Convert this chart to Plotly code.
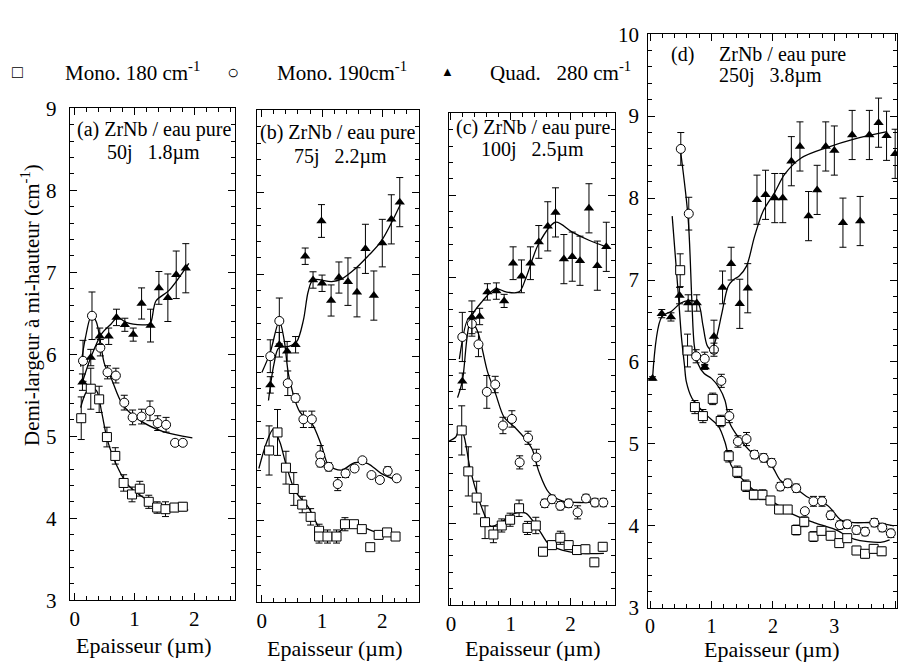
import plotly.graph_objects as go

# ---------------- data ----------------
# Panel (a) 50j 1.8um
a_sq_x = [0.11, 0.27, 0.41, 0.54, 0.68, 0.82, 0.96, 1.09, 1.24, 1.38, 1.52, 1.67, 1.81]
a_sq_y = [5.22, 5.58, 5.45, 4.99, 4.76, 4.43, 4.29, 4.36, 4.20, 4.13, 4.11, 4.13, 4.14]
a_sq_e = [0.26, 0.25, 0.16, 0.12, 0.10, 0.10, 0.09, 0.09, 0.08, 0.07, 0.09, 0.05, 0.05]
a_ci_x = [0.14, 0.29, 0.43, 0.55, 0.69, 0.83, 0.97, 1.12, 1.26, 1.39, 1.53, 1.68, 1.81]
a_ci_y = [5.92, 6.47, 6.08, 5.78, 5.74, 5.41, 5.23, 5.24, 5.31, 5.16, 5.14, 4.92, 4.92]
a_ci_e = [0.25, 0.29, 0.10, 0.08, 0.09, 0.09, 0.09, 0.09, 0.12, 0.09, 0.09, 0.03, 0.03]
a_tr_x = [0.13, 0.27, 0.42, 0.57, 0.70, 0.84, 0.98, 1.12, 1.27, 1.41, 1.56, 1.70, 1.86]
a_tr_y = [5.66, 5.96, 6.22, 6.22, 6.45, 6.36, 6.24, 6.62, 6.35, 6.81, 6.69, 6.97, 7.05]
a_tr_e = [0.10, 0.10, 0.10, 0.10, 0.10, 0.08, 0.08, 0.19, 0.20, 0.20, 0.29, 0.29, 0.30]
a_sqfit_x = [0.10, 0.18, 0.27, 0.37, 0.45, 0.55, 0.70, 0.90, 1.20, 1.50, 1.90]
a_sqfit_y = [5.35, 5.52, 5.60, 5.55, 5.30, 4.95, 4.65, 4.40, 4.23, 4.13, 4.10]
a_cifit_x = [0.10, 0.18, 0.28, 0.36, 0.43, 0.50, 0.61, 0.80, 1.08, 1.47, 1.97]
a_cifit_y = [5.85, 6.20, 6.47, 6.40, 6.15, 5.88, 5.71, 5.39, 5.20, 5.06, 4.98]
a_trfit_x = [0.13, 0.27, 0.45, 0.61, 0.72, 0.86, 1.13, 1.26, 1.36, 1.58, 1.91]
a_trfit_y = [5.66, 5.96, 6.25, 6.37, 6.45, 6.39, 6.36, 6.37, 6.65, 6.78, 7.11]

# Panel (b) 75j 2.2um
b_sq_x = [0.12, 0.26, 0.40, 0.53, 0.67, 0.81, 0.95, 0.95, 1.09, 1.24, 1.38, 1.53, 1.66, 1.80, 1.94, 2.08, 2.22]
b_sq_y = [4.85, 5.07, 4.64, 4.38, 4.19, 4.04, 3.87, 3.80, 3.80, 3.80, 3.95, 3.95, 3.89, 3.67, 3.82, 3.85, 3.80]
b_sq_e = [0.30, 0.28, 0.20, 0.20, 0.10, 0.10, 0.08, 0.08, 0.08, 0.08, 0.08, 0.03, 0.03, 0.00, 0.03, 0.03, 0.03]
b_ci_x = [0.14, 0.29, 0.43, 0.56, 0.69, 0.83, 0.97, 0.97, 1.11, 1.26, 1.39, 1.54, 1.67, 1.82, 1.96, 2.09, 2.24]
b_ci_y = [6.00, 6.43, 5.67, 5.49, 5.23, 5.23, 4.79, 4.70, 4.65, 4.44, 4.57, 4.63, 4.73, 4.55, 4.49, 4.60, 4.51]
b_ci_e = [0.20, 0.28, 0.15, 0.05, 0.10, 0.10, 0.12, 0.05, 0.05, 0.08, 0.05, 0.03, 0.03, 0.03, 0.03, 0.05, 0.03]
b_tr_x = [0.14, 0.29, 0.42, 0.56, 0.72, 0.85, 0.99, 1.00, 1.15, 1.28, 1.43, 1.58, 1.72, 1.86, 2.00, 2.15, 2.29]
b_tr_y = [5.65, 6.14, 6.06, 6.14, 7.22, 6.93, 7.65, 6.89, 6.68, 6.96, 6.91, 6.78, 7.31, 6.74, 7.38, 7.67, 7.88]
b_tr_e = [0.10, 0.15, 0.12, 0.10, 0.10, 0.10, 0.20, 0.10, 0.19, 0.19, 0.29, 0.30, 0.30, 0.30, 0.29, 0.30, 0.30]
b_sqfit_x = [-0.05, 0.08, 0.19, 0.30, 0.39, 0.55, 0.77, 0.91, 0.99, 1.27, 1.40, 1.60, 1.87, 2.26]
b_sqfit_y = [4.63, 4.95, 5.11, 4.95, 4.71, 4.36, 4.16, 3.96, 3.85, 3.85, 3.93, 3.93, 3.86, 3.79]
b_cifit_x = [0.00, 0.14, 0.29, 0.37, 0.45, 0.63, 0.83, 0.99, 1.11, 1.32, 1.54, 1.76, 1.98, 2.26]
b_cifit_y = [5.80, 6.05, 6.43, 6.20, 5.75, 5.32, 5.18, 4.91, 4.67, 4.61, 4.70, 4.69, 4.57, 4.48]
b_trfit_x = [0.11, 0.20, 0.28, 0.45, 0.58, 0.69, 0.77, 0.85, 1.16, 1.32, 1.54, 1.76, 1.98, 2.30]
b_trfit_y = [5.46, 5.90, 6.10, 6.12, 6.18, 6.44, 6.79, 6.93, 6.91, 6.94, 7.06, 7.22, 7.40, 7.85]

# Panel (c) 100j 2.5um
c_sq_x = [0.18, 0.29, 0.43, 0.57, 0.71, 0.85, 0.99, 1.14, 1.28, 1.42, 1.54, 1.69, 1.83, 1.97, 2.11, 2.25, 2.40, 2.54]
c_sq_y = [5.13, 4.63, 4.31, 4.01, 3.86, 3.97, 4.04, 4.18, 3.94, 3.97, 3.65, 3.73, 3.82, 3.73, 3.67, 3.68, 3.52, 3.71]
c_sq_e = [0.30, 0.30, 0.20, 0.20, 0.10, 0.08, 0.08, 0.10, 0.08, 0.10, 0.05, 0.05, 0.08, 0.05, 0.05, 0.05, 0.05, 0.05]
c_ci_x = [0.19, 0.35, 0.46, 0.60, 0.74, 0.87, 1.02, 1.15, 1.29, 1.43, 1.57, 1.69, 1.83, 1.97, 2.12, 2.26, 2.41, 2.55]
c_ci_y = [6.27, 6.43, 6.18, 5.60, 5.69, 5.19, 5.27, 4.74, 5.04, 4.80, 4.24, 4.29, 4.21, 4.24, 4.13, 4.30, 4.25, 4.25]
c_ci_e = [0.30, 0.15, 0.15, 0.20, 0.10, 0.10, 0.10, 0.08, 0.08, 0.10, 0.05, 0.05, 0.05, 0.05, 0.08, 0.05, 0.05, 0.05]
c_tr_x = [0.19, 0.35, 0.48, 0.61, 0.76, 0.89, 1.04, 1.18, 1.33, 1.47, 1.62, 1.75, 1.89, 2.03, 2.16, 2.31, 2.45, 2.60]
c_tr_y = [5.73, 6.51, 6.52, 6.82, 6.83, 6.71, 7.17, 7.01, 7.17, 7.43, 7.62, 7.79, 7.22, 7.25, 7.20, 7.84, 7.14, 7.37]
c_tr_e = [0.10, 0.20, 0.10, 0.10, 0.10, 0.08, 0.20, 0.20, 0.20, 0.20, 0.30, 0.30, 0.30, 0.30, 0.30, 0.30, 0.30, 0.30]
c_sqfit_x = [-0.03, 0.08, 0.14, 0.20, 0.33, 0.53, 0.67, 0.86, 1.08, 1.25, 1.47, 1.64, 1.86, 2.19, 2.56]
c_sqfit_y = [5.00, 5.05, 5.14, 5.10, 4.63, 4.16, 3.96, 4.02, 4.12, 4.12, 3.92, 3.74, 3.67, 3.63, 3.63]
c_cifit_x = [0.14, 0.30, 0.44, 0.61, 0.75, 0.89, 1.08, 1.25, 1.36, 1.47, 1.64, 1.86, 2.19, 2.58]
c_cifit_y = [6.00, 6.50, 6.35, 5.85, 5.57, 5.29, 5.16, 5.02, 4.90, 4.63, 4.37, 4.27, 4.25, 4.27]
c_trfit_x = [0.11, 0.19, 0.33, 0.53, 0.75, 0.92, 1.14, 1.25, 1.47, 1.75, 2.03, 2.31, 2.60]
c_trfit_y = [5.53, 5.73, 6.50, 6.71, 6.86, 6.82, 6.82, 6.98, 7.41, 7.67, 7.55, 7.45, 7.37]

# Panel (d) 250j 3.8um
d_sq_x = [0.49, 0.61, 0.73, 0.86, 1.02, 1.15, 1.28, 1.42, 1.56, 1.69, 1.83, 1.96, 2.10, 2.24, 2.38, 2.51, 2.66, 2.79, 2.94, 3.08, 3.21, 3.36, 3.50, 3.64, 3.77]
d_sq_y = [7.12, 6.14, 5.45, 5.34, 5.55, 5.28, 4.85, 4.66, 4.49, 4.38, 4.38, 4.31, 4.20, 4.20, 3.95, 4.05, 3.87, 3.94, 3.88, 3.79, 3.85, 3.70, 3.66, 3.72, 3.69]
d_sq_e = [0.20, 0.20, 0.08, 0.08, 0.07, 0.07, 0.07, 0.07, 0.07, 0.06, 0.06, 0.05, 0.05, 0.05, 0.06, 0.06, 0.06, 0.05, 0.05, 0.05, 0.05, 0.05, 0.05, 0.05, 0.05]
d_ci_x = [0.50, 0.63, 0.75, 0.89, 1.04, 1.16, 1.29, 1.43, 1.57, 1.70, 1.85, 1.98, 2.12, 2.24, 2.38, 2.52, 2.66, 2.80, 2.94, 3.09, 3.21, 3.36, 3.50, 3.65, 3.78, 3.92]
d_ci_y = [8.60, 7.81, 6.07, 6.04, 6.15, 5.77, 5.34, 5.03, 5.06, 4.87, 4.83, 4.77, 4.48, 4.52, 4.46, 4.18, 4.30, 4.30, 4.13, 4.01, 4.02, 3.95, 3.93, 4.04, 3.98, 3.91]
d_ci_e = [0.20, 0.20, 0.08, 0.08, 0.08, 0.08, 0.08, 0.07, 0.08, 0.05, 0.05, 0.05, 0.05, 0.05, 0.05, 0.03, 0.06, 0.06, 0.05, 0.05, 0.05, 0.05, 0.05, 0.05, 0.05, 0.05]
d_tr_x = [0.04, 0.19, 0.34, 0.48, 0.62, 0.76, 0.89, 1.04, 1.18, 1.32, 1.46, 1.59, 1.74, 1.88, 2.03, 2.16, 2.30, 2.44, 2.58, 2.72, 2.86, 3.00, 3.14, 3.29, 3.42, 3.57, 3.72, 3.85, 3.99]
d_tr_y = [5.80, 6.59, 6.55, 6.81, 6.72, 6.72, 5.94, 6.31, 6.91, 7.20, 6.71, 6.90, 7.98, 8.04, 8.00, 8.00, 8.45, 8.63, 7.78, 8.10, 8.63, 8.58, 7.70, 8.77, 7.72, 8.77, 8.92, 8.76, 8.54]
d_tr_e = [0.02, 0.05, 0.05, 0.10, 0.10, 0.10, 0.03, 0.20, 0.20, 0.20, 0.30, 0.30, 0.30, 0.30, 0.30, 0.30, 0.30, 0.30, 0.30, 0.30, 0.30, 0.30, 0.30, 0.30, 0.30, 0.30, 0.30, 0.30, 0.30]
d_sqfit_x = [0.36, 0.46, 0.51, 0.56, 0.59, 0.68, 0.76, 0.95, 1.11, 1.22, 1.32, 1.49, 1.70, 1.97, 2.30, 2.67, 3.00, 3.32, 3.75, 3.90]
d_sqfit_y = [7.78, 6.82, 6.31, 5.96, 5.76, 5.56, 5.48, 5.33, 5.22, 5.02, 4.74, 4.58, 4.43, 4.31, 4.15, 4.04, 3.96, 3.84, 3.80, 3.83]
d_cifit_x = [0.50, 0.62, 0.68, 0.72, 0.78, 0.88, 1.00, 1.13, 1.22, 1.30, 1.43, 1.65, 1.97, 2.13, 2.35, 2.57, 2.89, 3.11, 3.32, 3.65, 3.97]
d_cifit_y = [8.55, 7.75, 6.75, 6.20, 5.98, 5.86, 5.80, 5.68, 5.53, 5.25, 5.09, 4.90, 4.74, 4.55, 4.47, 4.35, 4.25, 4.07, 4.04, 4.04, 4.00]
d_trfit_x = [0.04, 0.19, 0.35, 0.50, 0.62, 0.78, 0.86, 0.93, 1.00, 1.08, 1.17, 1.27, 1.35, 1.45, 1.57, 1.70, 1.84, 2.03, 2.19, 2.46, 2.89, 3.32, 3.86]
d_trfit_y = [5.80, 6.55, 6.62, 6.72, 6.75, 6.72, 6.45, 6.20, 6.15, 6.30, 6.60, 6.92, 7.00, 7.05, 7.17, 7.53, 7.84, 8.07, 8.29, 8.49, 8.62, 8.72, 8.81]

panel_titles = ["(a) ZrNb / eau pure", "(b) ZrNb / eau pure", "(c) ZrNb / eau pure", "ZrNb / eau pure"]
panel_sub = ["50j   1.8µm", "75j   2.2µm", "100j   2.5µm", "250j   3.8µm"]
legend_labels = ["Mono. 180 cm<sup>-1</sup>", "Mono. 190cm<sup>-1</sup>", "Quad.   280 cm<sup>-1</sup>"]
x_title = "Epaisseur (µm)"
y_title = "Demi-largeur à mi-hauteur (cm<sup>-1</sup>)"

# ---------------- layout geometry ----------------
W, H = 898, 670
FONT = "Liberation Serif, Times New Roman, Times, serif"

def px_x(p):
    return p / W

def px_y(p):
    return 1 - p / H

panels = [
    dict(x0=67, x1=233, y0=100, y1=610, xr=[-0.083, 2.683], yr=[3, 9], ylab=True, xt=[0, 1, 2], xfs=21),
    dict(x0=255, x1=418, y0=102, y1=612, xr=[-0.083, 2.612], yr=[3, 9], ylab=False, xt=[0, 1, 2], xfs=21),
    dict(x0=448, x1=615, y0=105, y1=615, xr=[-0.033, 2.75], yr=[3, 9], ylab=False, xt=[0, 1, 2], xfs=21),
    dict(x0=648, x1=898, y0=23, y1=618, xr=[-0.032, 4.02], yr=[3, 10], ylab=True, xt=[0, 1, 2, 3, 4], xfs=20),
]

data = [
    (a_sq_x, a_sq_y, a_sq_e, a_ci_x, a_ci_y, a_ci_e, a_tr_x, a_tr_y, a_tr_e,
     a_sqfit_x, a_sqfit_y, a_cifit_x, a_cifit_y, a_trfit_x, a_trfit_y),
    (b_sq_x, b_sq_y, b_sq_e, b_ci_x, b_ci_y, b_ci_e, b_tr_x, b_tr_y, b_tr_e,
     b_sqfit_x, b_sqfit_y, b_cifit_x, b_cifit_y, b_trfit_x, b_trfit_y),
    (c_sq_x, c_sq_y, c_sq_e, c_ci_x, c_ci_y, c_ci_e, c_tr_x, c_tr_y, c_tr_e,
     c_sqfit_x, c_sqfit_y, c_cifit_x, c_cifit_y, c_trfit_x, c_trfit_y),
    (d_sq_x, d_sq_y, d_sq_e, d_ci_x, d_ci_y, d_ci_e, d_tr_x, d_tr_y, d_tr_e,
     d_sqfit_x, d_sqfit_y, d_cifit_x, d_cifit_y, d_trfit_x, d_trfit_y),
]

fig = go.Figure()
layout = dict(
    width=W, height=H, margin=dict(l=0, r=0, t=0, b=0),
    paper_bgcolor="white", plot_bgcolor="white", showlegend=False,
    font=dict(family=FONT, color="black"),
)

def err(arr):
    return dict(type="data", array=arr, visible=True, color="black", thickness=1, width=3.5)

for i, (p, d) in enumerate(zip(panels, data)):
    n = "" if i == 0 else str(i + 1)
    xa, ya = "x" + n, "y" + n
    (sx, sy, se, cx, cy, ce, tx, ty, te, sfx, sfy, cfx, cfy, tfx, tfy) = d
    line = dict(color="black", width=1.3, shape="spline", smoothing=0.9)
    for fx, fy in [(sfx, sfy), (cfx, cfy), (tfx, tfy)]:
        fig.add_trace(go.Scatter(x=fx, y=fy, mode="lines", line=line, xaxis=xa, yaxis=ya, hoverinfo="skip"))
    fig.add_trace(go.Scatter(x=sx, y=sy, mode="markers", error_y=err(se), xaxis=xa, yaxis=ya,
                             marker=dict(symbol="square", size=9, color="white", line=dict(color="black", width=1))))
    fig.add_trace(go.Scatter(x=cx, y=cy, mode="markers", error_y=err(ce), xaxis=xa, yaxis=ya,
                             marker=dict(symbol="circle", size=9, color="white", line=dict(color="black", width=1))))
    fig.add_trace(go.Scatter(x=tx, y=ty, mode="markers", error_y=err(te), xaxis=xa, yaxis=ya,
                             marker=dict(symbol="triangle-up", size=9, color="black", line=dict(color="black", width=0))))

    common = dict(showline=True, linecolor="black", linewidth=1, mirror="allticks",
                  ticks="inside", ticklen=7, tickwidth=1, tickcolor="black",
                  showgrid=False, zeroline=False)
    layout["xaxis" + n] = dict(common, domain=[px_x(p["x0"]), px_x(p["x1"])], range=p["xr"],
                               anchor=ya, tickvals=p["xt"], ticklabelstandoff=0,
                               tickfont=dict(family=FONT, size=p["xfs"], color="black"),
                               minor=dict(ticks="inside", ticklen=4, dtick=0.2, tick0=0,
                                          tickcolor="black", showgrid=False))
    layout["yaxis" + n] = dict(common, domain=[px_y(p["y1"]), px_y(p["y0"])], range=p["yr"],
                               anchor=xa, dtick=1, showticklabels=p["ylab"],
                               ticklabelstandoff=(8 if i == 0 else 4),
                               tickfont=dict(family=FONT, size=21, color="black"),
                               minor=dict(ticks="inside", ticklen=4, dtick=0.2, tick0=0,
                                          tickcolor="black", showgrid=False))

fig.update_layout(**layout)

ann = []
def add_text(text, x, y, size, xanchor="center", angle=0):
    ann.append(dict(text=text, x=px_x(x), y=px_y(y), xref="paper", yref="paper",
                    xanchor=xanchor, yanchor="middle", showarrow=False, textangle=angle,
                    font=dict(family=FONT, size=size, color="black")))

# panel texts
add_text(panel_titles[0], 152, 122, 20)
add_text(panel_sub[0], 151, 146, 20)
add_text(panel_titles[1], 337, 125, 20)
add_text(panel_sub[1], 339, 150, 20)
add_text(panel_titles[2], 532, 120, 20)
add_text(panel_sub[2], 532, 143, 20)
add_text("(d)", 683, 44, 20)
add_text(panel_titles[3], 717, 44, 20, xanchor="left")
add_text(panel_sub[3], 717, 66, 20, xanchor="left")

# x titles
add_text(x_title, 141, 657, 22)
add_text(x_title, 333, 660, 22)
add_text(x_title, 532, 660, 22)
add_text(x_title, 772, 661, 22)

# y title
add_text(y_title, 27, 304, 21, angle=-90)

# legend
add_text("□", 15, 62, 18)
add_text(legend_labels[0], 60, 62, 21, xanchor="left")
add_text("○", 231, 62, 20)
add_text(legend_labels[1], 273, 62, 21, xanchor="left")
add_text("▲", 446, 62, 13)
add_text(legend_labels[2], 487, 62, 21, xanchor="left")

fig.update_layout(annotations=ann)
fig.write_html(
    "out.html",
    config={"displayModeBar": False},
    post_script="document.body.style.margin='0px'; document.body.style.overflow='hidden';",
)
